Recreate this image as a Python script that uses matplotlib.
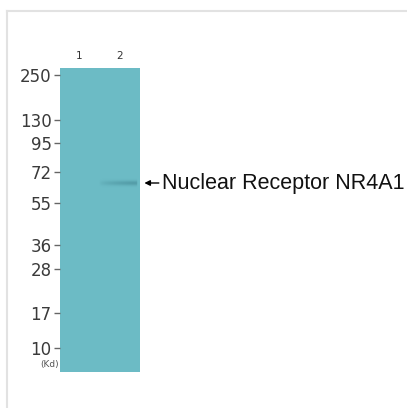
import numpy as np
import matplotlib
matplotlib.use("Agg")
import matplotlib.pyplot as plt
from matplotlib.colors import to_rgb

# ---- data ----
marker_labels = ["250", "130", "95", "72", "55", "36", "28", "17", "10"]
marker_migration = [7, 52, 75, 104, 135, 177, 201, 245, 280]   # px from gel top
lanes = [1, 2]
lane_labels = ["1", "2"]
band_lane = 2
band_migration = 115
band_label = "Nuclear Receptor NR4A1"

W, H = 407, 408
fig = plt.figure(figsize=(W / 100, H / 100), dpi=100)
fig.patch.set_facecolor("white")

# light frame lines
frame = fig.add_axes([0, 0, 1, 1])
frame.set_xlim(0, W)
frame.set_ylim(H, 0)
frame.axis("off")
frame.plot([7, W], [11, 11], color="#e2e2e2", lw=1.5)
frame.plot([7, 7], [11, H], color="#e2e2e2", lw=1.5)

# blot axes
gx0, gy0, gw, gh = 60, 68, 80, 304
ax = fig.add_axes([gx0 / W, 1 - (gy0 + gh) / H, gw / W, gh / H])
ax.set_facecolor("#6cbbc5")
for s in ax.spines.values():
    s.set_visible(False)

# band rendered as soft smear
x0, x1 = 0.537, 2.488
xs = np.linspace(x0, x1, 200)
ys = np.linspace(0, gh, 600)
X, Y = np.meshgrid(xs, ys)
prof_x = np.clip((X - (band_lane - 0.5)) / 0.8, 0, 1) ** 0.5
prof_x = prof_x * (X < band_lane + 0.42)
prof_y = np.exp(-((Y - band_migration) / 2.4) ** 2)
alpha = 0.4 * prof_x * prof_y
rgba = np.zeros(X.shape + (4,))
rgba[..., :3] = to_rgb("#2f6f7c")
rgba[..., 3] = alpha
ax.imshow(rgba, extent=[x0, x1, gh, 0], aspect="auto", interpolation="bilinear")
ax.set_xlim(x0, x1)
ax.set_ylim(gh, 0)

# ticks
ax.set_yticks(marker_migration)
ax.set_yticklabels(marker_labels, fontfamily="DejaVu Sans", fontsize=12, color="#3a3a3a")
ax.tick_params(axis="y", length=4, width=1, color="#666666", pad=2)
ax.xaxis.tick_top()
ax.set_xticks(lanes)
ax.set_xticklabels(lane_labels, fontfamily="DejaVu Sans", fontsize=7.5, color="#333333")
ax.tick_params(axis="x", length=0, pad=5)

ax.text(-0.02, 296, "(Kd)", transform=ax.get_yaxis_transform(), ha="right", va="center",
        fontsize=6.5, color="#555555", fontfamily="DejaVu Sans")

# arrow + label
ax.annotate("", xy=(1.02, band_migration), xycoords=("axes fraction", "data"),
            xytext=(1.27, band_migration), textcoords=("axes fraction", "data"),
            arrowprops=dict(arrowstyle="-|>", color="black", lw=1, mutation_scale=8),
            annotation_clip=False)
ax.text(1.28, band_migration, band_label, transform=ax.get_yaxis_transform(),
        ha="left", va="center", fontsize=15.5, color="#111111",
        fontfamily="Liberation Sans", clip_on=False)

fig.savefig("out.png", dpi=100, facecolor="white")
